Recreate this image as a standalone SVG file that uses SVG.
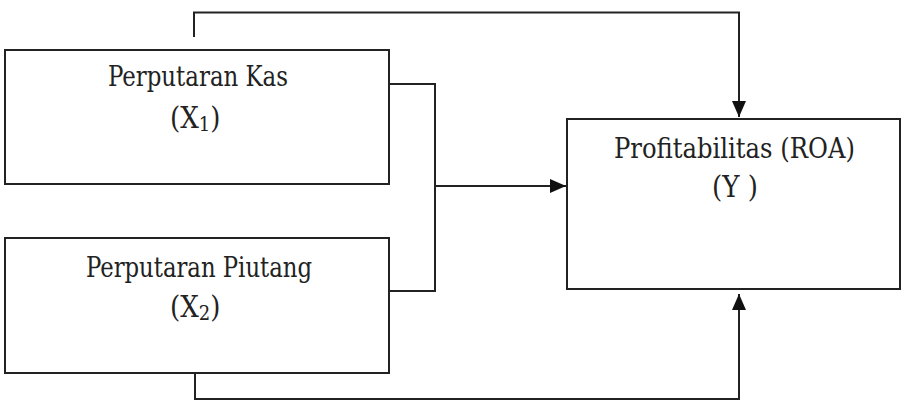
<svg xmlns="http://www.w3.org/2000/svg" width="910" height="411" viewBox="0 0 910 411">
<style>
.box{fill:#fff;stroke:#222;stroke-width:2}
.ln{fill:none;stroke:#222;stroke-width:2}
.t{font-family:"DejaVu Serif Condensed","DejaVu Serif","Liberation Serif",serif;font-size:27px;fill:#222}
.v{font-size:29px}
.sub{font-size:20px}
</style>
<defs>
<marker id="ah" viewBox="0 0 16 14" refX="16" refY="7" markerWidth="16" markerHeight="14" markerUnits="userSpaceOnUse" orient="auto">
<path d="M0,0 L16,7 L0,14 Z" fill="#111"/>
</marker>
</defs>
<rect width="910" height="411" fill="#fff"/>
<g id="connectors">
<path class="ln" d="M194,37 V12.5 H739 V117" marker-end="url(#ah)"/>
<path class="ln" d="M389,84 H435 V291 H389"/>
<path class="ln" d="M435,186 H566" marker-end="url(#ah)"/>
<path class="ln" d="M195,373 V399 H739 V294" marker-end="url(#ah)"/>
</g>
<g id="x1">
<rect class="box" x="5" y="50" width="384" height="134"/>
<text class="t" x="108" y="86" textLength="180" lengthAdjust="spacingAndGlyphs">Perputaran Kas</text>
<text class="t v" x="170" y="128">(X<tspan class="sub" dy="3">1</tspan><tspan dy="-3">)</tspan></text>
</g>
<g id="x2">
<rect class="box" x="5" y="238" width="384" height="135"/>
<text class="t" x="86" y="277" textLength="226" lengthAdjust="spacingAndGlyphs">Perputaran Piutang</text>
<text class="t v" x="170" y="317">(X<tspan class="sub" dy="3">2</tspan><tspan dy="-3">)</tspan></text>
</g>
<g id="y">
<rect class="box" x="567" y="119" width="333" height="170"/>
<text class="t" x="614" y="158" textLength="241" lengthAdjust="spacingAndGlyphs">Profitabilitas (ROA)</text>
<text class="t v" x="712" y="197">(Y )</text>
</g>
</svg>
